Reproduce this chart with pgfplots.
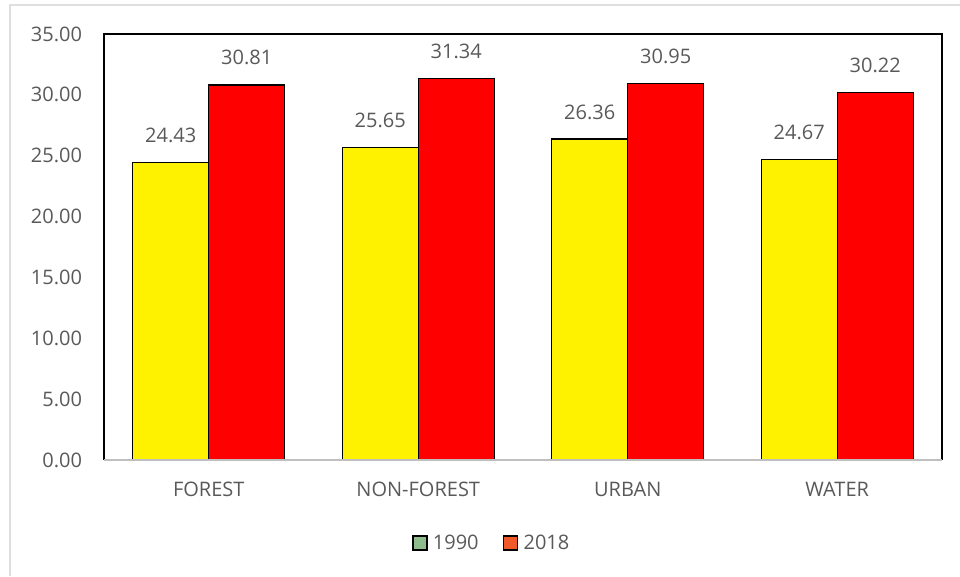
\documentclass[border=0pt]{standalone}
\usepackage{pgfplots}
\pgfplotsset{compat=1.18}
\usepackage{fontspec}
\setmainfont{Open Sans}
\definecolor{txt}{HTML}{595959}
\definecolor{leg1}{HTML}{8FBC8B}
\definecolor{leg2}{HTML}{F05A28}
\newcommand{\lbl}{\fontsize{15}{18}\selectfont}
\begin{document}
\begin{tikzpicture}
\path[use as bounding box] (0pt,0pt) rectangle (720pt,432pt);
\draw[gray!25, line width=1.2pt] (7.5pt,0pt) -- (7.5pt,428.2pt) -- (720pt,428.2pt);
\begin{axis}[
  at={(78pt,87pt)}, anchor=south west,
  scale only axis, width=628.5pt, height=319.5pt,
  ybar=0pt, bar width=57pt,
  xmin=-0.5, xmax=3.5, ymin=0, ymax=35,
  xtick={0,1,2,3}, xticklabels={FOREST,NON-FOREST,URBAN,WATER},
  ytick={0,5,...,35},
  /pgf/number format/assume math mode=true,
  yticklabel style={xshift=-13pt, /pgf/number format/fixed, /pgf/number format/fixed zerofill, /pgf/number format/precision=2},
  major tick length=0pt,
  axis line style={draw=none},
  tick label style={font=\lbl, text=txt},
  xticklabel style={yshift=-13pt},
  nodes near coords={\pgfmathprintnumber[fixed,fixed zerofill,precision=2,assume math mode=true]{\pgfplotspointmeta}},
  every node near coord/.append style={font=\lbl, text=txt, yshift=11pt},
  legend style={at={(0.463,-0.195)}, anchor=center, draw=none, fill=none,
    legend columns=2, font=\lbl, text=txt,
    /tikz/every odd column/.append style={column sep=2pt},
    /tikz/every even column/.append style={column sep=16pt}},
  clip=false,
]
\addplot[fill=yellow, draw=black, line width=1pt,
  legend image code/.code={\draw[fill=leg1, draw=black, line width=1.2pt] (0pt,-5pt) rectangle (10.5pt,5.5pt);}]
  coordinates {(0,24.43) (1,25.65) (2,26.36) (3,24.67)};
\addlegendentry{1990}
\addplot[fill=red, draw=black, line width=1pt,
  legend image code/.code={\draw[fill=leg2, draw=black, line width=1.2pt] (0pt,-5pt) rectangle (10.5pt,5.5pt);}]
  coordinates {(0,30.81) (1,31.34) (2,30.95) (3,30.22)};
\addlegendentry{2018}
\draw[black, line width=1.2pt] (rel axis cs:0,0) -- (rel axis cs:0,1) -- (rel axis cs:1,1) -- (rel axis cs:1,0);
\draw[gray!50, line width=2pt] (rel axis cs:0,0) -- (rel axis cs:1,0);
\end{axis}
\end{tikzpicture}
\end{document}
